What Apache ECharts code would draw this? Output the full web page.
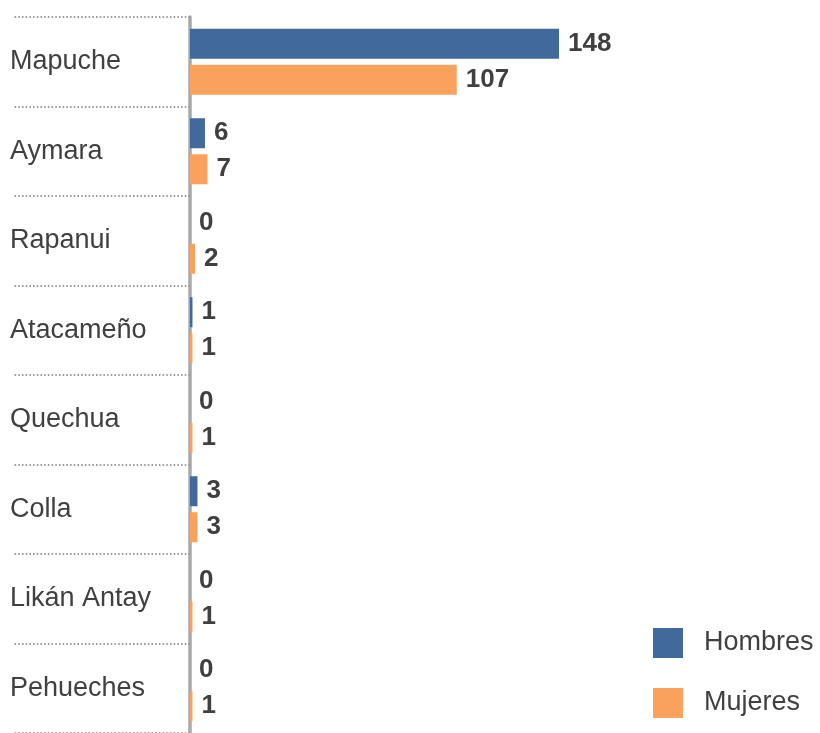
<!DOCTYPE html>
<html>
<head>
<meta charset="utf-8">
<script src="https://cdn.jsdelivr.net/npm/echarts@6/dist/echarts.min.js"></script>
<style>
  html, body { margin: 0; padding: 0; background: #fff; }
  #chart { width: 820px; height: 733px; }
</style>
</head>
<body>
<div id="chart"></div>
<script>
const categories = ['Mapuche', 'Aymara', 'Rapanui', 'Atacameño', 'Quechua', 'Colla', 'Likán Antay', 'Pehueches'];
const hombres = [148, 6, 0, 1, 0, 3, 0, 0];
const mujeres = [107, 7, 2, 1, 1, 3, 1, 1];

const chart = echarts.init(document.getElementById('chart'));
const txt = '#404040';
const font = '"Liberation Sans", Arial, sans-serif';

const valueLabel = {
  show: true,
  position: 'right',
  distance: 9,
  color: txt,
  fontFamily: font,
  fontWeight: 'bold',
  fontSize: 26
};

chart.setOption({
  animation: false,
  grid: { left: 190, right: 261, top: 17, bottom: -1 },
  legend: {
    orient: 'vertical',
    left: 653,
    top: 628,
    padding: 0,
    itemWidth: 30,
    itemHeight: 30,
    itemGap: 30,
    icon: 'rect',
    textStyle: { color: txt, fontFamily: font, fontSize: 27, padding: [0, 0, 0, 16] },
    data: ['Hombres', 'Mujeres']
  },
  xAxis: {
    type: 'value',
    min: 0,
    max: 148,
    show: false
  },
  yAxis: {
    type: 'category',
    inverse: true,
    offset: 2,
    data: categories,
    axisLine: { lineStyle: { color: '#a9a9ad', width: 3.5 } },
    axisTick: {
      show: true,
      length: 177,
      lineStyle: { color: '#999999', width: 2, type: [1.5, 2.2] }
    },
    axisLabel: {
      align: 'left',
      margin: 178,
      color: txt,
      fontFamily: font,
      fontSize: 27
    },
    splitLine: { show: false }
  },
  series: [
    {
      name: 'Hombres',
      type: 'bar',
      data: hombres,
      barWidth: 30,
      barGap: '20%',
      itemStyle: { color: '#41699c' },
      label: valueLabel
    },
    {
      name: 'Mujeres',
      type: 'bar',
      data: mujeres,
      barWidth: 30,
      itemStyle: { color: '#f8a25e' },
      label: valueLabel
    }
  ]
});
</script>
</body>
</html>
